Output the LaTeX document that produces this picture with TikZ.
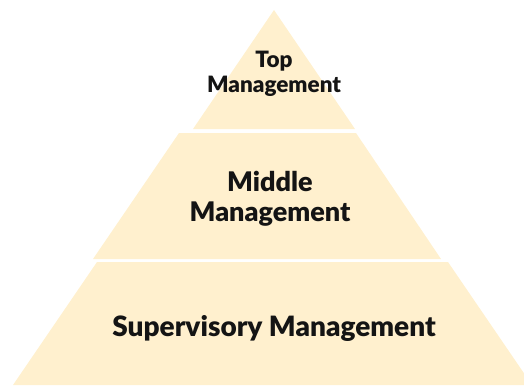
\documentclass[tikz,border=0pt]{standalone}
\usepackage{fontspec}
\setmainfont{Lato}[BoldFont={Lato Black}]
\usetikzlibrary{positioning}
\definecolor{cream}{HTML}{FFF0CE}
\definecolor{ink}{HTML}{141414}

\begin{document}
\begin{tikzpicture}[x=1pt,y=-1pt,
  level/.style={text=ink,align=center,font=\bfseries}]
  \useasboundingbox (0,0) rectangle (524,385);
  \clip (0,0) rectangle (524,385);
  \fill[cream] (274,10) -- (355,129) -- (193,129) -- cycle;
  \fill[cream] (179,133) -- (356,133) -- (441,259) -- (93,259) -- cycle;
  \fill[cream] (97,262) -- (448,262) -- (532,385) -- (13,385) -- cycle;
  \node[level,font=\bfseries\fontsize{22.5}{25}\selectfont] (top) at (274,74) {Top\\Management};
  \node[level,font=\bfseries\fontsize{27}{30}\selectfont] (middle) at (270,199) {Middle\\Management};
  \node[level,font=\bfseries\fontsize{28}{33}\selectfont] (supervisory) at (274,328) {Supervisory Management};
\end{tikzpicture}
\end{document}
